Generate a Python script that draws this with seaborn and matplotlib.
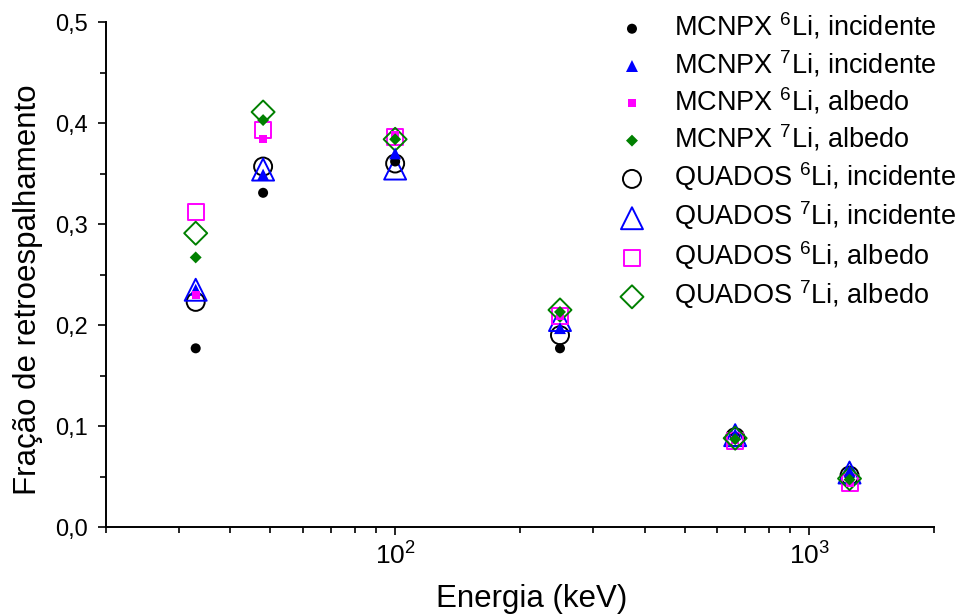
import numpy as np
import pandas as pd
import seaborn as sns
import matplotlib
matplotlib.use("Agg")
import matplotlib.pyplot as plt
from matplotlib.ticker import FixedLocator, FuncFormatter, LogLocator, NullFormatter

# energies (keV) and backscatter fractions
energia = [33, 48, 100, 250, 662, 1250]

mcnpx_li6_inc = [0.177, 0.331, 0.362, 0.177, 0.089, 0.050]
mcnpx_li7_inc = [0.235, 0.349, 0.370, 0.197, 0.092, 0.055]
mcnpx_li6_alb = [0.230, 0.384, 0.388, 0.209, 0.086, 0.044]
mcnpx_li7_alb = [0.267, 0.403, 0.384, 0.213, 0.087, 0.047]
quados_li6_inc = [0.223, 0.357, 0.360, 0.190, 0.089, 0.051]
quados_li7_inc = [0.235, 0.354, 0.355, 0.205, 0.091, 0.054]
quados_li6_alb = [0.312, 0.393, 0.386, 0.209, 0.085, 0.044]
quados_li7_alb = [0.291, 0.411, 0.384, 0.215, 0.088, 0.048]

labels = [
    "MCNPX $^{6}$Li, incidente",
    "MCNPX $^{7}$Li, incidente",
    "MCNPX $^{6}$Li, albedo",
    "MCNPX $^{7}$Li, albedo",
    "QUADOS $^{6}$Li, incidente",
    "QUADOS $^{7}$Li, incidente",
    "QUADOS $^{6}$Li, albedo",
    "QUADOS $^{7}$Li, albedo",
]
y_ticks = [0.0, 0.1, 0.2, 0.3, 0.4, 0.5]


def main():
    sns.set_style("ticks")
    plt.rcParams["font.family"] = ["Liberation Sans", "DejaVu Sans"]
    plt.rcParams["mathtext.fontset"] = "custom"
    plt.rcParams["mathtext.rm"] = "Liberation Sans"
    plt.rcParams["mathtext.default"] = "regular"
    plt.rcParams["text.color"] = "black"
    plt.rcParams["axes.labelcolor"] = "black"
    plt.rcParams["xtick.color"] = "black"
    plt.rcParams["ytick.color"] = "black"

    series = [mcnpx_li6_inc, mcnpx_li7_inc, mcnpx_li6_alb, mcnpx_li7_alb,
              quados_li6_inc, quados_li7_inc, quados_li6_alb, quados_li7_alb]
    markers = ["o", "^", "s", "D", "o", "^", "s", "D"]
    colors = ["black", "#0000ff", "#ff00ff", "#008000",
              "black", "#0000ff", "#ff00ff", "#008000"]
    sizes = [52, 74, 33, 37, 168, 250, 133, 137]
    filled = [True] * 4 + [False] * 4

    fig = plt.figure(figsize=(9.6, 6.15), dpi=100)
    ax = fig.add_axes([0.110, 0.143, 0.863, 0.821])

    for vals, lab, m, c, s, f in zip(series, labels, markers, colors, sizes, filled):
        df = pd.DataFrame({"energia": energia, "frac": vals})
        if f:
            sns.scatterplot(data=df, x="energia", y="frac", marker=m, s=s,
                            color=c, edgecolor="none", linewidth=0,
                            label=lab, ax=ax, zorder=3)
        else:
            sns.scatterplot(data=df, x="energia", y="frac", marker=m, s=s,
                            facecolor="none", edgecolor=c, linewidth=1.4,
                            label=lab, ax=ax, zorder=2)

    ax.set_xscale("log")
    ax.set_xlim(20, 2000)
    ax.set_ylim(0, 0.5)
    ax.xaxis.set_major_locator(FixedLocator([100, 1000]))
    ax.xaxis.set_major_formatter(FuncFormatter(lambda v, p: "$10^{%d}$" % round(np.log10(v))))
    ax.xaxis.set_minor_locator(LogLocator(base=10, subs=np.arange(2, 10), numticks=20))
    ax.xaxis.set_minor_formatter(NullFormatter())
    ax.yaxis.set_major_locator(FixedLocator(y_ticks))
    ax.yaxis.set_minor_locator(FixedLocator([0.05, 0.15, 0.25, 0.35, 0.45]))
    ax.yaxis.set_major_formatter(FuncFormatter(lambda v, p: f"{v:.1f}".replace(".", ",")))

    sns.despine(ax=ax)
    for sp in ["left", "bottom"]:
        ax.spines[sp].set_linewidth(1.4)
        ax.spines[sp].set_color("black")
    ax.tick_params(which="major", length=6, width=1.2, direction="out")
    ax.tick_params(which="minor", length=4, width=1.2, direction="out")
    ax.tick_params(axis="y", which="major", labelsize=17, pad=7)
    ax.tick_params(axis="x", which="major", labelsize=19, pad=5)

    ax.set_xlabel("Energia (keV)", fontsize=22.5)
    ax.xaxis.set_label_coords(0.514, -0.113)
    ax.set_ylabel("Fração de retroespalhamento", fontsize=22.5)
    ax.yaxis.set_label_coords(-0.075, 0.47)

    ax.legend(loc="upper left", bbox_to_anchor=(0.619, 1.022), frameon=False,
              fontsize=19.5, borderpad=0, borderaxespad=0, handlelength=1.0,
              handletextpad=1.05, labelspacing=0.24)

    fig.savefig("out.png", dpi=100)


if __name__ == "__main__":
    main()
